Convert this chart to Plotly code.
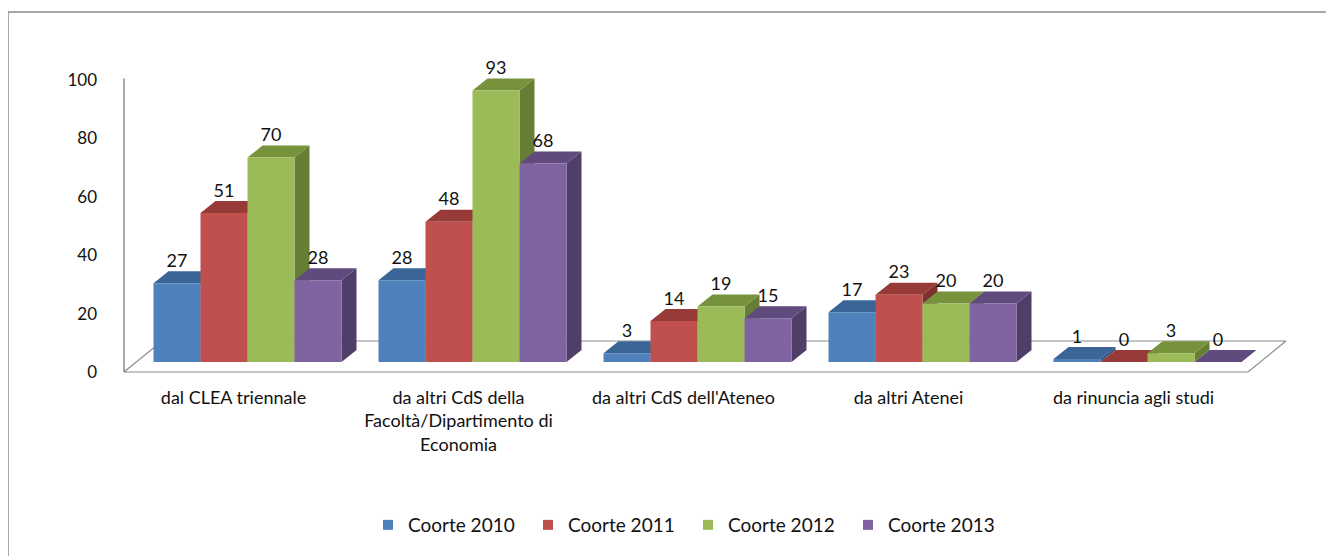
"""
3D-style grouped column chart: provenienza degli iscritti per coorte.
"""
import plotly.graph_objects as go

categories = [
    "dal CLEA triennale",
    "da altri CdS della<br>Facoltà/Dipartimento di<br>Economia",
    "da altri CdS dell'Ateneo",
    "da altri Atenei",
    "da rinuncia agli studi",
]
series_names = ["Coorte 2010", "Coorte 2011", "Coorte 2012", "Coorte 2013"]
coorte_2010 = [27, 28, 3, 17, 1]
coorte_2011 = [51, 48, 14, 23, 0]
coorte_2012 = [70, 93, 19, 20, 3]
coorte_2013 = [28, 68, 15, 20, 0]
y_ticks = [0, 20, 40, 60, 80, 100]

series_values = [coorte_2010, coorte_2011, coorte_2012, coorte_2013]

# front / top / side shades (Office palette)
front_colors = ["#4F81BD", "#C0504D", "#9BBB59", "#8064A2"]
top_colors = ["#3B6597", "#973B39", "#76933C", "#614A7E"]
side_colors = ["#30537E", "#7E302E", "#667F34", "#503D68"]

# page has an 8px body margin, so targets are shifted by OFF
OFF = 8
W, H = 1334, 556
L, R, T, B = 100, 1320, 22, 377           # plot area in figure pixels
PX_X = 225.0                              # pixels per category
PX_Y = 2.92                               # pixels per value unit
X0_PX, Y0_PX = 233.5 - OFF, 372.0 - OFF   # pixel of x=0 / y=0 (front plane)

bar_w = 47 / PX_X                         # bar width
front_dx, front_dy = 14 / PX_X, 10 / PX_Y # bars sit behind the front plane
depth_dx, depth_dy = 15 / PX_X, 12 / PX_Y # bar depth
floor_dx, floor_dy = 38 / PX_X, 31 / PX_Y # floor depth
x_axis = (124 - OFF - X0_PX) / PX_X
x_floor_end = (1248 - OFF - X0_PX) / PX_X

fig = go.Figure()

# floor
fig.add_trace(go.Scatter(
    x=[x_axis, x_floor_end, x_floor_end + floor_dx, x_axis + floor_dx, x_axis],
    y=[0, 0, floor_dy, floor_dy, 0],
    mode="lines", fill="toself", fillcolor="white",
    line=dict(color="#8C8C8C", width=1.2),
    showlegend=False, hoverinfo="skip",
))

for j, (name, vals) in enumerate(zip(series_names, series_values)):
    sx, sy, tx, ty, fx, fy = [], [], [], [], [], []
    lx, ly = [], []
    for i, v in enumerate(vals):
        xl = i + front_dx + (j - 2) * bar_w
        xr = xl + bar_w
        b = front_dy
        t = front_dy + v
        sx += [xr, xr, xr + depth_dx, xr + depth_dx, xr, None]
        sy += [b, t, t + depth_dy, b + depth_dy, b, None]
        tx += [xl, xr, xr + depth_dx, xl + depth_dx, xl, None]
        ty += [t, t, t + depth_dy, t + depth_dy, t, None]
        fx += [xl, xr, xr, xl, xl, None]
        fy += [b, b, t, t, b, None]
        lx.append((xl + xr) / 2)
        ly.append(t + depth_dy)
    for px_, py_, col in [(sx, sy, side_colors[j]), (tx, ty, top_colors[j]),
                          (fx, fy, front_colors[j])]:
        fig.add_trace(go.Scatter(
            x=px_, y=py_, mode="lines", fill="toself", fillcolor=col,
            line=dict(width=0, color=col), showlegend=False, hoverinfo="skip",
        ))
    fig.add_trace(go.Scatter(
        x=lx, y=ly, mode="text", text=[str(v) for v in vals],
        textposition="top center", textfont=dict(size=18, color="#111111"),
        showlegend=False, hoverinfo="skip", cliponaxis=False,
    ))

# vertical axis line
fig.add_trace(go.Scatter(
    x=[x_axis, x_axis], y=[0, 100.5], mode="lines",
    line=dict(color="#8C8C8C", width=1.5), showlegend=False, hoverinfo="skip",
))

# legend entries
for j, name in enumerate(series_names):
    fig.add_trace(go.Scatter(
        x=[None], y=[None], mode="markers", name=name,
        marker=dict(symbol="square", size=10, color=front_colors[j]),
    ))

plot_w, plot_h = R - L, B - T
fig.add_shape(
    type="rect", xref="paper", yref="paper",
    x0=(8 - OFF - L) / plot_w, x1=(1345 - L) / plot_w,
    y0=(B - 570) / plot_h, y1=(B - (12 - OFF)) / plot_h,
    line=dict(color="#8C8C8C", width=1.5), fillcolor="rgba(0,0,0,0)",
)

fig.update_layout(
    width=W, height=H,
    margin=dict(l=L, r=W - R, t=T, b=H - B),
    paper_bgcolor="white", plot_bgcolor="white",
    font=dict(family="Lato", color="#111111"),
    showlegend=True,
    legend=dict(
        orientation="h", x=(688 - OFF - L) / plot_w, xanchor="center",
        y=(B - (525 - OFF)) / plot_h, yanchor="middle",
        font=dict(size=19), itemwidth=30,
        entrywidth=115, entrywidthmode="pixels",
    ),
    xaxis=dict(
        range=[(L - X0_PX) / PX_X, (R - X0_PX) / PX_X],
        tickvals=list(range(len(categories))), ticktext=categories,
        showgrid=False, zeroline=False, showline=False, ticks="",
        tickfont=dict(size=18),
    ),
    yaxis=dict(
        range=[(Y0_PX - B) / PX_Y, (Y0_PX - T) / PX_Y],
        tickvals=y_ticks, showgrid=False, zeroline=False, showline=False,
        ticks="", tickfont=dict(size=17), ticklabelstandoff=10,
    ),
)

fig.write_html("out.html")
